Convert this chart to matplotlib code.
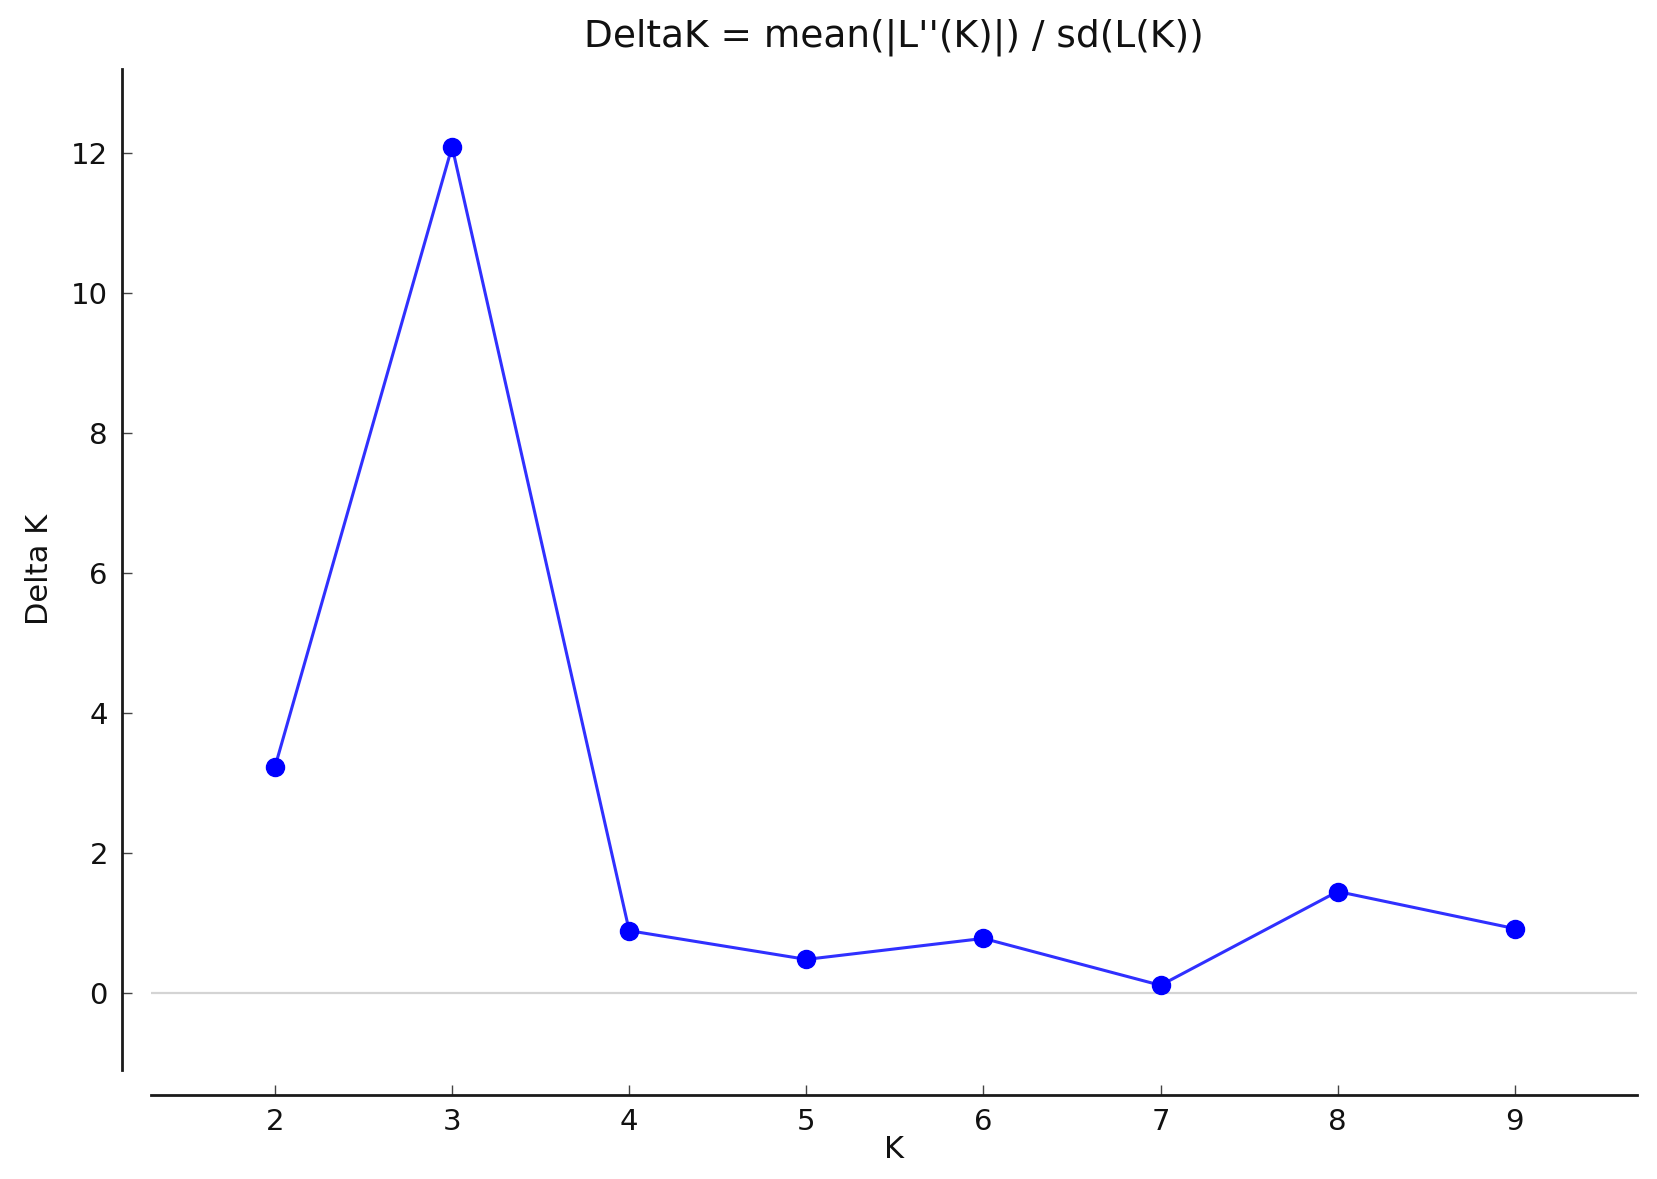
import matplotlib
matplotlib.use("Agg")
import matplotlib.pyplot as plt

K = [2, 3, 4, 5, 6, 7, 8, 9]
delta_k = [3.23, 12.09, 0.89, 0.48, 0.78, 0.11, 1.45, 0.92]
y_ticks = [0, 2, 4, 6, 8, 10, 12]
title = "DeltaK = mean(|L''(K)|) / sd(L(K))"

W, H = 1658, 1179
fig = plt.figure(figsize=(W / 100, H / 100), dpi=100)
left, right = 151 / W, 1637 / W
bottom, top = 1 - 1070 / H, 1 - 69 / H
ax = fig.add_axes([left, bottom, right - left, top - bottom])

ax.axhline(0, color="#d4d4d4", lw=1.6, zorder=1)
ax.plot(K, delta_k, color="#3030ff", lw=2.2, marker="o", markersize=13,
        markerfacecolor="#0000ff", markeredgecolor="#0000ff", zorder=3)

ax.set_xlim(1.3, 9.69)
ax.set_ylim(-1.1, 13.2)
ax.set_xticks(K)
ax.set_yticks(y_ticks)

for s in ["top", "right"]:
    ax.spines[s].set_visible(False)
ax.spines["left"].set_position(("outward", 21))
ax.spines["bottom"].set_position(("outward", 18))
for s in ["left", "bottom"]:
    ax.spines[s].set_linewidth(2.0)
    ax.spines[s].set_color("#1a1a1a")

ax.tick_params(axis="both", direction="in", length=7, width=1.0,
               color="#444444", labelsize=21, labelcolor="#111111")
ax.tick_params(axis="y", pad=10)
ax.tick_params(axis="x", pad=9)
ax.xaxis.set_ticks_position("bottom")
ax.yaxis.set_ticks_position("left")

ax.set_title(title, fontsize=27, pad=16, color="#111111")
ax.set_xlabel("K", fontsize=22, labelpad=0, color="#111111")
ax.set_ylabel("Delta K", fontsize=22, labelpad=12, color="#111111")

fig.savefig("out.png", dpi=100)
